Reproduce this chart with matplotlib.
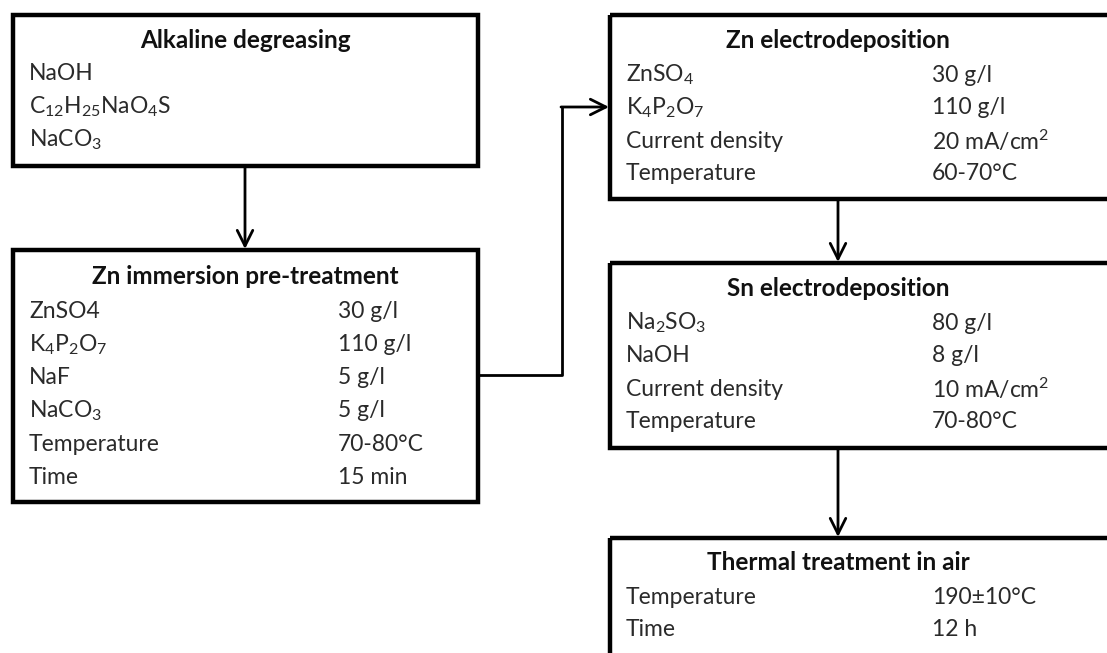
import matplotlib.pyplot as plt
from matplotlib.patches import Rectangle

plt.rcParams['font.family'] = ['Lato', 'DejaVu Sans']
plt.rcParams['mathtext.fontset'] = 'custom'
plt.rcParams['mathtext.rm'] = 'Lato'
plt.rcParams['mathtext.it'] = 'Lato'
plt.rcParams['mathtext.bf'] = 'Lato:bold'

# box texts
titles = ["Alkaline degreasing",
          "Zn immersion pre-treatment",
          "Zn electrodeposition",
          "Sn electrodeposition",
          "Thermal treatment in air"]

labels = [
    ["NaOH", r"C$_{12}$H$_{25}$NaO$_4$S", r"NaCO$_3$"],
    ["ZnSO4", r"K$_4$P$_2$O$_7$", "NaF", r"NaCO$_3$", "Temperature", "Time"],
    [r"ZnSO$_4$", r"K$_4$P$_2$O$_7$", "Current density", "Temperature"],
    [r"Na$_2$SO$_3$", "NaOH", "Current density", "Temperature"],
    ["Temperature", "Time"],
]

values = [
    ["", "", ""],
    ["30 g/l", "110 g/l", "5 g/l", "5 g/l", "70-80°C", "15 min"],
    ["30 g/l", "110 g/l", r"20 mA/cm$^2$", "60-70°C"],
    ["80 g/l", "8 g/l", r"10 mA/cm$^2$", "70-80°C"],
    ["190±10°C", "12 h"],
]

# layout in pixels: left, top, right, bottom, title y, first row y, row step, value x
boxes = [
    (13, 15, 478, 166, 40, 73, 33.5, 338),
    (13, 250, 478, 502, 277, 311, 33.3, 338),
    (610, 15, 1112, 199, 40, 75, 33, 932),
    (610, 263, 1112, 448, 288, 323, 33, 932),
    (610, 538, 1112, 700, 563, 597, 33, 932),
]

fig = plt.figure(figsize=(11.07, 6.53), dpi=100)
ax = fig.add_axes([0, 0, 1, 1])
ax.set_xlim(0, 1107)
ax.set_ylim(653, 0)
ax.axis('off')

fs = 16.5
for (l, t, r, b, ty, ry, step, vx), title, labs, vals in zip(boxes, titles, labels, values):
    ax.add_patch(Rectangle((l, t), r - l, b - t, fill=False, lw=3.2, ec='black'))
    ax.text((l + r) / 2 if r < 1107 else l + 228, ty, title, ha='center', va='center',
            fontsize=17.5, fontweight='bold', color='#111111')
    for i, (lab, val) in enumerate(zip(labs, vals)):
        y = ry + i * step
        ax.text(l + 16, y, lab, ha='left', va='center', fontsize=fs, color='#2a2a2a')
        if val:
            ax.text(vx, y, val, ha='left', va='center', fontsize=fs, color='#2a2a2a')

arrow = dict(arrowstyle='->', lw=2, color='black', mutation_scale=28,
             shrinkA=0, shrinkB=0)

# arrows between the boxes
ax.annotate('', xy=(245, 249), xytext=(245, 166), arrowprops=arrow)
ax.plot([478, 562, 562], [375, 375, 107], color='black', lw=2)
ax.annotate('', xy=(609, 107), xytext=(561, 107), arrowprops=arrow)
ax.annotate('', xy=(838, 262), xytext=(838, 199), arrowprops=arrow)
ax.annotate('', xy=(838, 537), xytext=(838, 448), arrowprops=arrow)

fig.savefig('out.png', dpi=100, facecolor='white')
